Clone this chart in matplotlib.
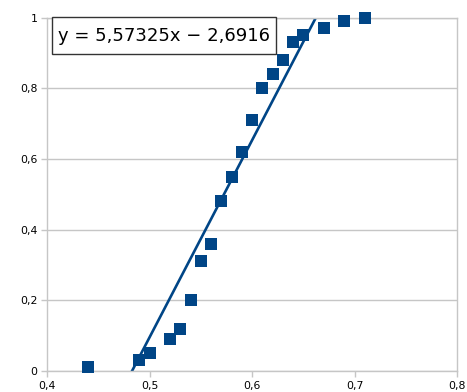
import matplotlib
matplotlib.use("Agg")
import matplotlib.pyplot as plt
from matplotlib.patches import Rectangle
import numpy as np

x_vals = [0.44, 0.49, 0.50, 0.52, 0.53, 0.54, 0.55, 0.56, 0.57, 0.58,
          0.59, 0.60, 0.61, 0.62, 0.63, 0.64, 0.65, 0.67, 0.69, 0.71]
y_vals = [0.01, 0.03, 0.05, 0.09, 0.12, 0.20, 0.31, 0.36, 0.48, 0.55,
          0.62, 0.71, 0.80, 0.84, 0.88, 0.93, 0.95, 0.97, 0.99, 1.00]
slope = 5.57325
intercept = -2.6916
x_ticks = [0.4, 0.5, 0.6, 0.7, 0.8]
x_tick_labels = ["0,4", "0,5", "0,6", "0,7", "0,8"]
y_ticks = [0, 0.2, 0.4, 0.6, 0.8, 1.0]
y_tick_labels = ["0", "0,2", "0,4", "0,6", "0,8", "1"]
eq_label = "y = 5,57325x \u2212 2,6916"

blue = "#004586"
gray = "#c6c6c6"

fig = plt.figure(figsize=(4.67, 3.92), dpi=100)
ax = fig.add_axes([47/467, 21/392, 410/467, 353.5/392])

ax.set_xlim(0.4, 0.8)
ax.set_ylim(0, 1)

ax.set_yticks(y_ticks)
ax.set_yticklabels(y_tick_labels)
ax.set_xticks(x_ticks)
ax.set_xticklabels(x_tick_labels)

ax.yaxis.grid(True, color=gray, linewidth=1)
ax.set_axisbelow(True)
for s in ax.spines.values():
    s.set_color(gray)
    s.set_linewidth(1)

ax.tick_params(axis="both", colors=gray, labelcolor="#000000", labelsize=7.8,
               length=4, width=1, pad=3)

xl = np.linspace(0.4, 0.8, 50)
ax.plot(xl, slope * xl + intercept, color=blue, linewidth=1.9, zorder=2)

ax.plot(x_vals, y_vals, linestyle="none", marker="s", markersize=8.3,
        color=blue, markeredgewidth=0, zorder=3, clip_on=False)

bx0 = (52 - 47) / 410
bx1 = (276 - 47) / 410
by0 = (371 - 54) / 353.5
rect = Rectangle((bx0, by0), bx1 - bx0, 1.0 - by0, transform=ax.transAxes,
                 facecolor="white", edgecolor="#333333", linewidth=1, zorder=4,
                 clip_on=False)
ax.add_patch(rect)
ax.text((bx0 + bx1) / 2, (by0 + 1.0) / 2, eq_label, transform=ax.transAxes,
        ha="center", va="center", fontsize=13, color="#000000", zorder=5)

fig.savefig("out.png", dpi=100)
